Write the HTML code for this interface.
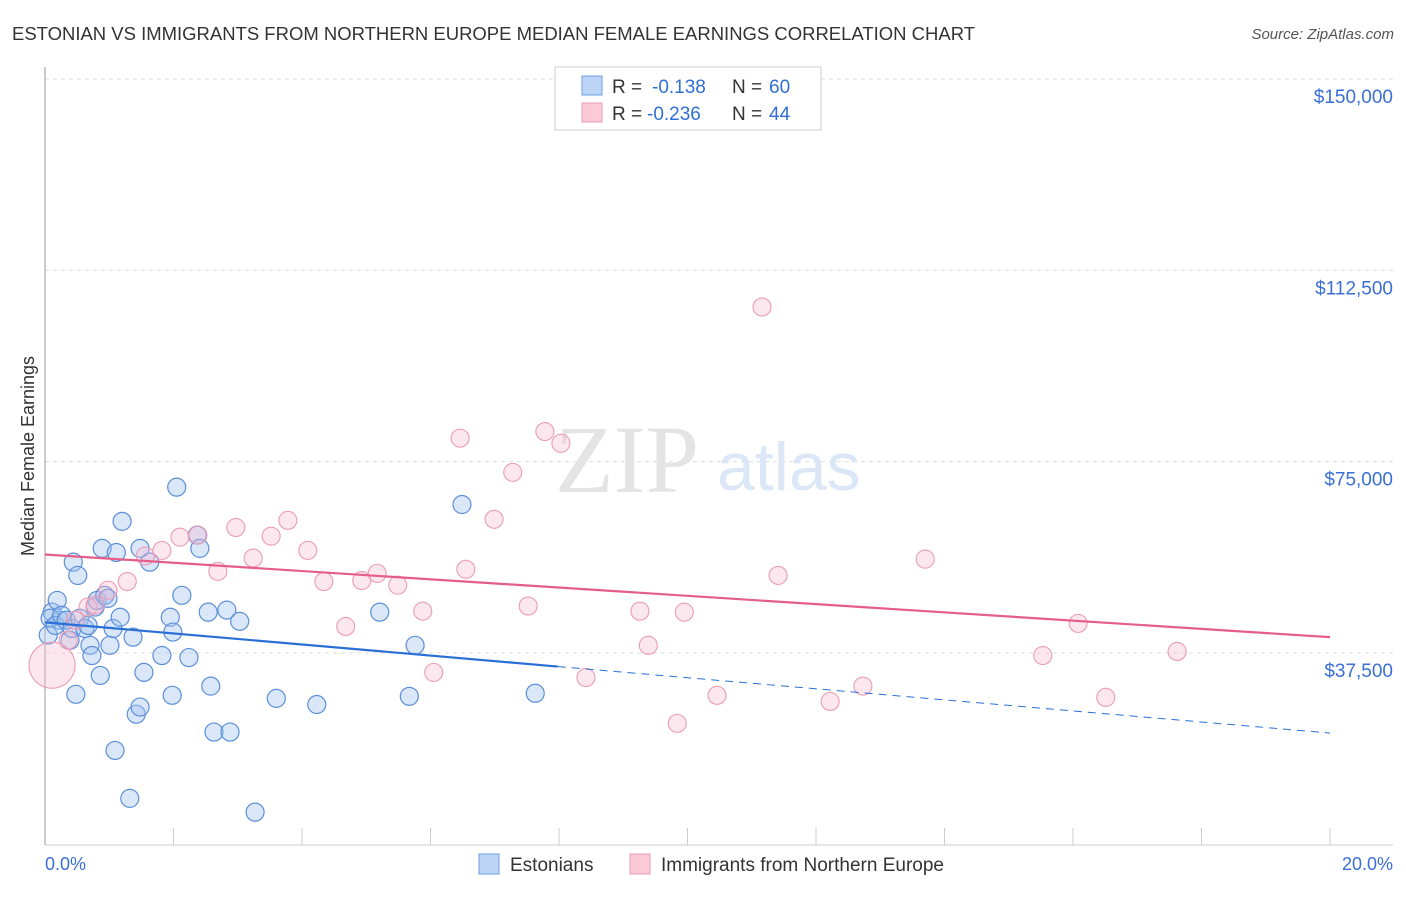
<!DOCTYPE html>
<html><head><meta charset="utf-8"><style>
body{margin:0;background:#fff;font-family:"Liberation Sans",sans-serif;}
svg text{font-family:"Liberation Sans",sans-serif;}
</style></head><body>
<svg id="chart" width="1406" height="892" viewBox="0 0 1406 892">
<text x="12" y="40" font-size="18.5" fill="#333" textLength="963" lengthAdjust="spacingAndGlyphs">ESTONIAN VS IMMIGRANTS FROM NORTHERN EUROPE MEDIAN FEMALE EARNINGS CORRELATION CHART</text>
<text x="1394" y="39" font-size="15" fill="#555" text-anchor="end" font-style="italic">Source: ZipAtlas.com</text>
<g id="grid"></g>
<text x="555" y="492" font-size="96" fill="#e4e4e4" style="font-family:'Liberation Serif',serif">ZIP</text>
<text x="717" y="490" font-size="68" fill="#dbe7f7">atlas</text>
<line x1="45" y1="67" x2="45" y2="845" stroke="#bbb" stroke-width="1.5"/>
<line x1="45" y1="845" x2="1393" y2="845" stroke="#ccc"/>
<text transform="translate(34,456) rotate(-90)" text-anchor="middle" font-size="18" fill="#333">Median Female Earnings</text>
<text x="45" y="870" font-size="18" fill="#3a6fd8">0.0%</text>
<text x="1393" y="870" font-size="18" fill="#3a6fd8" text-anchor="end">20.0%</text>
<g id="pts"></g>
<g id="lines"></g>
<g>
<rect x="555" y="67" width="266" height="63" fill="#fff" stroke="#ccc"/>
<rect x="582" y="76" width="20" height="19" fill="#bcd4f5" stroke="#6e9ee0"/>
<rect x="582" y="103" width="20" height="19" fill="#fbc9d8" stroke="#eb9bb5"/>
<text x="612" y="93" font-size="19" fill="#333">R =</text>
<text x="652" y="93" font-size="19" fill="#2f6fd6">-0.138</text>
<text x="732" y="93" font-size="19" fill="#333">N =</text>
<text x="769" y="93" font-size="19" fill="#2f6fd6">60</text>
<text x="612" y="120" font-size="19" fill="#333">R =</text>
<text x="647" y="120" font-size="19" fill="#2f6fd6">-0.236</text>
<text x="732" y="120" font-size="19" fill="#333">N =</text>
<text x="769" y="120" font-size="19" fill="#2f6fd6">44</text>
</g>
<g>
<rect x="479" y="854" width="20" height="20" fill="#bcd4f5" stroke="#6e9ee0"/>
<text x="510" y="871" font-size="19" fill="#333">Estonians</text>
<rect x="630" y="854" width="20" height="20" fill="#fbc9d8" stroke="#eb9bb5"/>
<text x="661" y="871" font-size="19" fill="#333">Immigrants from Northern Europe</text>
</g>
</svg>
<script>
const yTicks=[37500,75000,112500,150000];
const yTickLabels=["$37,500","$75,000","$112,500","$150,000"];
const xTicks=[2,4,6,8,10,12,14,16,18,20];
const estX=[.11,.19,.23,.08,.05,.16,.26,.33,.39,.42,.44,.51,.48,.54,.62,.67,.70,.73,.78,.81,.86,.89,.93,.98,1.01,1.06,1.11,1.17,1.20,1.37,1.42,1.48,1.48,1.54,1.63,1.82,1.95,1.98,1.99,2.05,2.13,2.24,2.37,2.41,2.54,2.58,2.63,2.83,2.88,3.03,3.27,3.60,4.23,5.21,5.67,5.76,6.49,7.63,1.32,1.09];
const estY=[45.5,47.8,43.9,44.3,41.0,42.9,44.9,43.9,40.0,42.3,55.3,52.7,29.4,44.3,42.3,42.9,39.0,37.0,46.5,47.8,33.1,58.0,48.8,48.2,39.0,42.3,57.2,44.5,63.3,40.6,25.5,58.0,26.9,33.7,55.3,37.0,44.5,29.2,41.6,70.0,48.8,36.6,60.6,58.0,45.5,31.0,22.0,45.9,22.0,43.7,6.3,28.6,27.4,45.5,29.0,39.0,66.6,29.6,9.0,18.4];
const immX=[.11,.36,.47,.67,.78,.98,1.28,1.56,1.82,2.10,2.38,2.69,2.97,3.24,3.52,3.78,4.09,4.34,4.68,4.93,5.17,5.49,5.88,6.05,6.46,6.55,6.99,7.28,7.52,7.78,8.03,8.42,9.26,9.39,9.84,9.95,10.46,11.16,11.41,12.22,12.73,13.70,15.53,16.08,16.51,17.62];
const immY=[35.1,40.0,43.9,46.5,46.9,49.8,51.5,56.5,57.6,60.2,60.6,53.5,62.1,56.1,60.4,63.5,57.6,51.5,42.7,51.7,53.1,50.8,45.7,33.7,79.6,53.9,63.7,72.9,46.7,80.9,78.6,32.7,45.7,39.0,23.7,45.5,29.2,105.3,52.7,28.0,31.0,55.9,37.0,43.3,28.8,37.8];
const estTrend=[43.5,21.8]; const estSolidEnd=7.98;
const immTrend=[56.8,40.6];
const NS="http://www.w3.org/2000/svg";
function sx(v){return 45+v/20*1285;}
function sy(v){return 844.3-v/150000*765.3;}
function mk(t,a,p){const e=document.createElementNS(NS,t);for(const k in a)e.setAttribute(k,a[k]);p.appendChild(e);return e;}
const grid=document.getElementById('grid');
yTicks.forEach((v,i)=>{
 const l=mk('line',{x1:45,x2:1393,y1:sy(v),y2:sy(v),stroke:'#ddd','stroke-dasharray':'4,4'},grid);
 
 
 const t=mk('text',{x:1393,y:sy(v)+24,'text-anchor':'end','font-size':19,fill:'#3a6fd8'},grid);
 t.textContent=yTickLabels[i];
 
 
});
xTicks.forEach(v=>{
 const l=mk('line',{x1:sx(v),x2:sx(v),y1:828,y2:845,stroke:'#ccc'},grid);
 
 
});
const pts=document.getElementById('pts');
estX.forEach((x,i)=>{
 const c=mk('circle',{cx:sx(x),cy:sy(estY[i]*1000),r:9,fill:'rgba(160,195,240,0.4)',stroke:'#5b8fd9','stroke-width':1.2},pts);
 
 
});
immX.forEach((x,i)=>{
 const c=mk('circle',{cx:sx(x),cy:sy(immY[i]*1000),r:i==0?23:9,fill:'rgba(248,185,205,0.35)',stroke:'#eb9bb5','stroke-width':1.1},pts);
 
 
});
const lines=document.getElementById('lines');
function ty(tr,x){return tr[0]+(tr[1]-tr[0])*x/20;}
let a=mk('line',{x1:sx(0),y1:sy(ty(estTrend,0)*1000),x2:sx(estSolidEnd),y2:sy(ty(estTrend,estSolidEnd)*1000),stroke:'#2a6fd6','stroke-width':2.2},lines);


let b=mk('line',{x1:sx(estSolidEnd),y1:sy(ty(estTrend,estSolidEnd)*1000),x2:sx(20),y2:sy(ty(estTrend,20)*1000),stroke:'#2a6fd6','stroke-width':1,'stroke-dasharray':'8,6'},lines);


let c=mk('line',{x1:sx(0),y1:sy(immTrend[0]*1000),x2:sx(20),y2:sy(immTrend[1]*1000),stroke:'#e55d8a','stroke-width':2.2},lines);


</script>
</body></html>
